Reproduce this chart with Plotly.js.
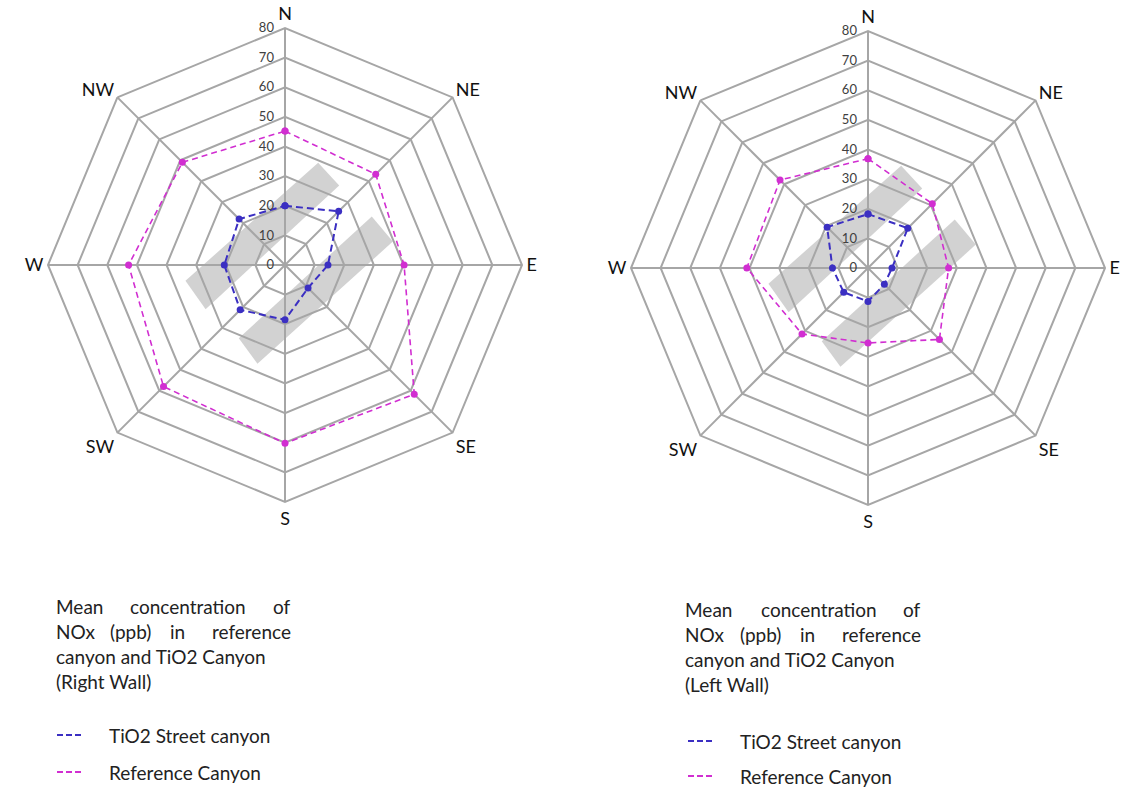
<!DOCTYPE html>
<html>
<head>
<meta charset="utf-8">
<script src="https://cdn.plot.ly/plotly-3.0.1.min.js"></script>
<style>html,body{margin:0;padding:0;background:#fff;}#chart{width:1124px;height:789px;}</style>
</head>
<body>
<div id="chart"></div>
<script>
// ---- data ----
const directions = ['N', 'NE', 'E', 'SE', 'S', 'SW', 'W', 'NW'];
const radialTicks = [0, 10, 20, 30, 40, 50, 60, 70, 80];
// Right wall (left chart)
const rightWallTiO2 = [20, 25.6, 14.5, 11, 18.5, 21.4, 20.5, 21.9];
const rightWallRef  = [45.2, 43.3, 40.2, 61.7, 60.2, 58, 52.8, 49];
// Left wall (right chart)
const leftWallTiO2 = [18.2, 19, 8.1, 7.8, 11.3, 11.6, 12, 19.5];
const leftWallRef  = [36.9, 30.7, 27.2, 34.1, 25.3, 31.5, 40.9, 42];
// street-canyon building blocks (drawn in ppb-scale units, x east, y north)
const block1X = [11.2, 18.3, -26.8, -33.6];
const block1Y = [34.5, 26.8, -14.9, -5.3];
const block2X = [29.3, 36.4, -9.3, -15.6];
const block2Y = [16.4, 7.9, -33.3, -24.7];
const seriesNames = ['TiO2 Street canyon', 'Reference Canyon'];

// ---- style ----
const W = 1124, H = 789;
const BLUE = '#3b2fc2', MAG = '#d12ed1', GRID = '#a6a6a6', BLOCK = '#d2d2d2';
const FONT = 'Lato, "Open Sans", sans-serif';
const R = 237;
const centers = [[285, 265], [868, 268]];

function dom(cx, cy) {
  return {x: [(cx - R) / W, (cx + R) / W], y: [1 - (cy + R) / H, 1 - (cy - R) / H]};
}
function polarLayout(d) {
  return {
    domain: d,
    gridshape: 'linear',
    bgcolor: 'rgba(0,0,0,0)',
    angularaxis: {
      type: 'category', categoryarray: directions, direction: 'clockwise', rotation: 90,
      showline: true, linecolor: GRID, linewidth: 2, gridcolor: GRID, gridwidth: 2,
      ticks: '', tickfont: {family: FONT, size: 18, color: '#111'}
    },
    radialaxis: {
      range: [0, 80], tickvals: radialTicks, angle: 90, side: 'counterclockwise',
      showline: false, gridcolor: GRID, gridwidth: 2,
      ticks: 'outside', ticklen: 6, tickcolor: 'rgba(0,0,0,0)', tickangle: 90,
      tickfont: {family: FONT, size: 13, color: '#404040'}
    }
  };
}
function closeArr(a) { return a.concat([a[0]]); }

const traces = [];
const sets = [[rightWallTiO2, rightWallRef], [leftWallTiO2, leftWallRef]];
sets.forEach((s, i) => {
  const xa = i === 0 ? 'x' : 'x2', ya = i === 0 ? 'y' : 'y2';
  [[block1X, block1Y], [block2X, block2Y]].forEach(b => {
    traces.push({type: 'scatter', x: closeArr(b[0]), y: closeArr(b[1]), xaxis: xa, yaxis: ya,
      mode: 'lines', fill: 'toself', fillcolor: BLOCK, line: {width: 0, color: BLOCK},
      hoverinfo: 'skip', showlegend: false});
  });
});
sets.forEach((s, i) => {
  const sp = i === 0 ? 'polar' : 'polar2';
  traces.push({type: 'scatterpolar', subplot: sp, r: closeArr(s[1]), theta: closeArr(directions),
    name: seriesNames[1], mode: 'lines+markers', line: {color: MAG, width: 1.6, dash: '6px,4px'},
    marker: {color: MAG, size: 7}, showlegend: false});
  traces.push({type: 'scatterpolar', subplot: sp, r: closeArr(s[0]), theta: closeArr(directions),
    name: seriesNames[0], mode: 'lines+markers', line: {color: BLUE, width: 2, dash: '7px,4px'},
    marker: {color: BLUE, size: 7}, showlegend: false});
});

const d0 = dom(centers[0][0], centers[0][1]);
const d1 = dom(centers[1][0], centers[1][1]);
const hidden = {visible: false, range: [-80, 80], fixedrange: true};

function px(x) { return x / W; }
function py(y) { return 1 - y / H; }
const annotations = [];
function txt(t, x, y, anchor) {
  const a = anchor || 'left';
  const dx = a === 'left' ? -3 : (a === 'right' ? 3 : 0);
  annotations.push({text: t, x: px(x + dx), y: py(y), xref: 'paper', yref: 'paper', xanchor: a,
    yanchor: 'middle', showarrow: false, font: {family: FONT, size: 19, color: '#222'}});
}
const shapes = [];
function sample(x, y, color, label) {
  shapes.push({type: 'line', xref: 'paper', yref: 'paper', x0: px(x), x1: px(x + 24), y0: py(y), y1: py(y),
    line: {color: color, width: 2, dash: '6px,3px'}});
  txt(label, x + 53, y);
}
// left block (Right Wall)
txt('Mean', 57, 606); txt('concentration', 188, 606, 'center'); txt('of', 290, 606, 'right');
txt('NOx', 57, 631); txt('(ppb)', 130, 631, 'center'); txt('in', 177, 631, 'center'); txt('reference', 290, 631, 'right');
txt('canyon and TiO2 Canyon', 57, 656);
txt('(Right Wall)', 57, 681);
sample(57, 735, BLUE, seriesNames[0]);
sample(57, 772, MAG, seriesNames[1]);
// right block (Left Wall)
txt('Mean', 686, 609); txt('concentration', 819, 609, 'center'); txt('of', 920, 609, 'right');
txt('NOx', 686, 634); txt('(ppb)', 760, 634, 'center'); txt('in', 807, 634, 'center'); txt('reference', 920, 634, 'right');
txt('canyon and TiO2 Canyon', 686, 659);
txt('(Left Wall)', 686, 684);
sample(688, 741, BLUE, seriesNames[0]);
sample(688, 776, MAG, seriesNames[1]);

const layout = {
  width: W, height: H, margin: {l: 0, r: 0, t: 0, b: 0},
  paper_bgcolor: '#fff', plot_bgcolor: 'rgba(0,0,0,0)', showlegend: false,
  font: {family: FONT},
  polar: polarLayout(d0), polar2: polarLayout(d1),
  xaxis: Object.assign({domain: d0.x, anchor: 'y'}, hidden),
  yaxis: Object.assign({domain: d0.y, anchor: 'x'}, hidden),
  xaxis2: Object.assign({domain: d1.x, anchor: 'y2'}, hidden),
  yaxis2: Object.assign({domain: d1.y, anchor: 'x2'}, hidden),
  annotations: annotations, shapes: shapes
};
Plotly.newPlot('chart', traces, layout, {displayModeBar: false, staticPlot: true});
</script>
</body>
</html>
